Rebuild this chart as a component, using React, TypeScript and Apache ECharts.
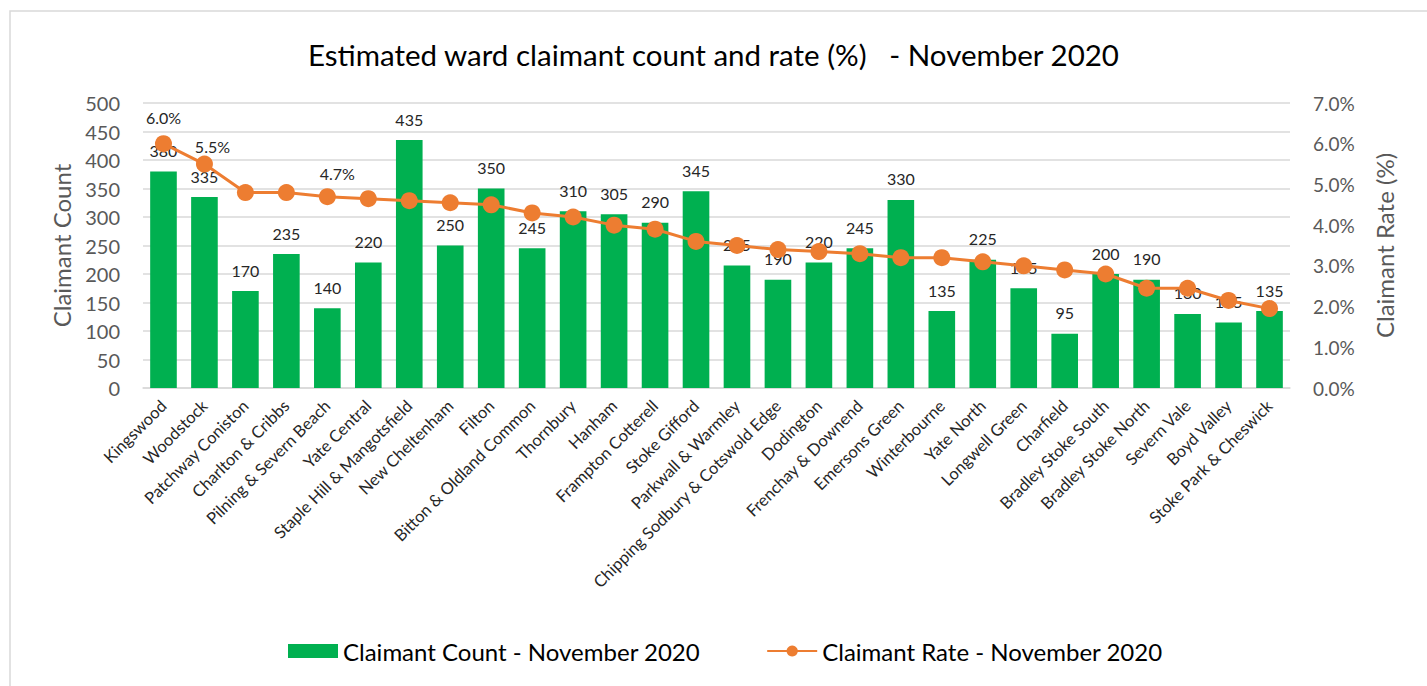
import React, { useEffect, useRef } from "react";
import * as echarts from "echarts";

const wards = [
  "Kingswood",
  "Woodstock",
  "Patchway Coniston",
  "Charlton & Cribbs",
  "Pilning & Severn Beach",
  "Yate Central",
  "Staple Hill & Mangotsfield",
  "New Cheltenham",
  "Filton",
  "Bitton & Oldland Common",
  "Thornbury",
  "Hanham",
  "Frampton Cotterell",
  "Stoke Gifford",
  "Parkwall & Warmley",
  "Chipping Sodbury & Cotswold Edge",
  "Dodington",
  "Frenchay & Downend",
  "Emersons Green",
  "Winterbourne",
  "Yate North",
  "Longwell Green",
  "Charfield",
  "Bradley Stoke South",
  "Bradley Stoke North",
  "Severn Vale",
  "Boyd Valley",
  "Stoke Park & Cheswick",
];

const claimantCount = [
  380, 335, 170, 235, 140, 220, 435, 250, 350, 245, 310, 305, 290, 345, 215,
  190, 220, 245, 330, 135, 225, 175, 95, 200, 190, 130, 115, 135,
];

const claimantRate = [
  6.0, 5.5, 4.8, 4.8, 4.7, 4.65, 4.6, 4.55, 4.5, 4.3, 4.2, 4.0, 3.9, 3.6, 3.5,
  3.4, 3.35, 3.3, 3.2, 3.2, 3.1, 3.0, 2.9, 2.8, 2.45, 2.45, 2.15, 1.95,
];

// indices of the rate points that carry a data label
const rateLabelIndex = [0, 1, 4];

const countTicks = { min: 0, max: 500, interval: 50 };
const rateTicks = { min: 0, max: 7, interval: 1 };

const titleText = "Estimated ward claimant count and rate (%)   - November 2020";
const countName = "Claimant Count - November 2020";
const rateName = "Claimant Rate - November 2020";

const FONT = "Lato, 'Noto Sans', sans-serif";

export default function App() {
  const ref = useRef<HTMLDivElement>(null);

  useEffect(() => {
    if (!ref.current) return;
    const chart = echarts.init(ref.current, null, { renderer: "svg" });

    const labelOffsets: Record<number, [number, number]> = {
      0: [0, 2],
      1: [8, 11],
      4: [10, 5],
    };

    const rateData = claimantRate.map((v, i) => {
      if (rateLabelIndex.includes(i)) {
        return {
          value: v,
          label: { show: true, offset: labelOffsets[i] || [0, 0] },
        };
      }
      return { value: v };
    });

    chart.setOption({
      animation: false,
      backgroundColor: "#ffffff",
      textStyle: { fontFamily: FONT },
      title: {
        text: titleText,
        left: "center",
        top: 34,
        textStyle: {
          fontFamily: FONT,
          fontSize: 29.5,
          fontWeight: "normal",
          color: "#000000",
        },
      },
      graphic: [
        {
          type: "rect",
          shape: { x: 10, y: 11, width: 1500, height: 800 },
          style: { fill: "none", stroke: "#d9d9d9", lineWidth: 1.5 },
          silent: true,
        },
      ],
      legend: {
        left: 283,
        top: 634,
        itemWidth: 50,
        itemHeight: 14,
        itemGap: 66,
        textStyle: { fontFamily: FONT, fontSize: 24, color: "#000000" },
        data: [
          { name: countName, icon: "rect" },
          { name: rateName },
        ],
      },
      grid: {
        left: 143,
        right: 137,
        top: 103,
        bottom: 298,
        containLabel: false,
      },
      xAxis: {
        type: "category",
        data: wards,
        axisTick: { show: false },
        axisLine: { lineStyle: { color: "#d9d9d9", width: 1.5 } },
        axisLabel: {
          interval: 0,
          rotate: 45,
          margin: 15,
          fontFamily: FONT,
          fontSize: 16.5,
          color: "#262626",
        },
      },
      yAxis: [
        {
          type: "value",
          min: countTicks.min,
          max: countTicks.max,
          interval: countTicks.interval,
          name: "Claimant Count",
          nameLocation: "middle",
          nameRotate: 90,
          nameGap: 70,
          nameTextStyle: { fontFamily: FONT, fontSize: 24, color: "#595959" },
          axisLine: { show: false },
          axisTick: { show: false },
          axisLabel: {
            margin: 23,
            fontFamily: FONT,
            fontSize: 20,
            color: "#595959",
          },
          splitLine: { lineStyle: { color: "#d9d9d9", width: 1.5 } },
        },
        {
          type: "value",
          min: rateTicks.min,
          max: rateTicks.max,
          interval: rateTicks.interval,
          position: "right",
          name: "Claimant Rate (%)",
          nameLocation: "middle",
          nameRotate: 90,
          nameGap: 82,
          nameTextStyle: { fontFamily: FONT, fontSize: 24, color: "#595959" },
          axisLine: { show: false },
          axisTick: { show: false },
          axisLabel: {
            margin: 23,
            fontFamily: FONT,
            fontSize: 19,
            color: "#595959",
            formatter: (v: number) => v.toFixed(1) + "%",
          },
          splitLine: { show: false },
        },
      ],
      series: [
        {
          name: countName,
          type: "bar",
          data: claimantCount,
          barCategoryGap: "35%",
          itemStyle: { color: "#00B050" },
          label: {
            show: true,
            position: "top",
            distance: 13,
            fontFamily: FONT,
            fontSize: 16,
            color: "#262626",
          },
          z: 2,
        },
        {
          name: rateName,
          type: "line",
          yAxisIndex: 1,
          data: rateData,
          symbol: "circle",
          symbolSize: 17,
          lineStyle: { color: "#ED7D31", width: 3 },
          itemStyle: { color: "#ED7D31" },
          label: {
            show: false,
            position: "top",
            distance: 12,
            fontFamily: FONT,
            fontSize: 16,
            color: "#262626",
            formatter: (p: any) => Number(p.value).toFixed(1) + "%",
          },
          z: 3,
        },
      ],
    });

    return () => chart.dispose();
  }, []);

  return (
    <div
      ref={ref}
      style={{
        position: "absolute",
        left: 0,
        top: 0,
        width: 1427,
        height: 686,
      }}
    />
  );
}
